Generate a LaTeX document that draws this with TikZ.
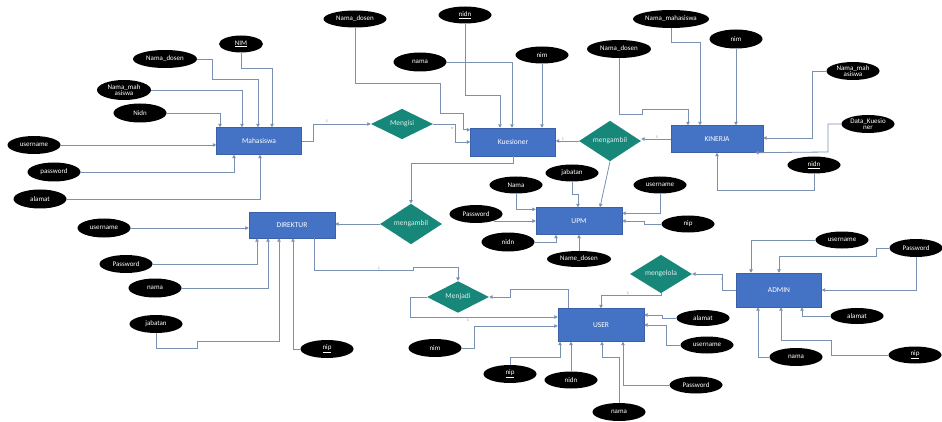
\documentclass[tikz,border=0pt]{standalone}
\usepackage{fontspec}
\setmainfont{Carlito}
\usetikzlibrary{shapes.geometric,arrows.meta}

\definecolor{boxblue}{HTML}{4472C4}
\definecolor{relteal}{HTML}{17877A}
\definecolor{wire}{HTML}{7A90B2}

\tikzset{
  entity/.style={draw=boxblue!85!black, fill=boxblue, text=white, minimum width=86pt, minimum height=27pt, inner sep=0pt, font=\fontsize{7.5}{8}\selectfont},
  attr/.style={ellipse, fill=black, text=white, minimum width=53pt, minimum height=18pt, inner sep=0pt, align=center, font=\fontsize{7}{6.5}\selectfont},
  rel/.style={diamond, fill=relteal, text=white!85!relteal, minimum width=62pt, minimum height=26pt, inner sep=0pt, font=\fontsize{7.5}{8}\selectfont},
  conn/.style={draw=wire, line width=0.8pt, -{Triangle[length=3.5pt,width=3.5pt]}},
  card/.style={font=\fontsize{4}{4}\selectfont, text=wire, inner sep=0.5pt}
}

\begin{document}
\begin{tikzpicture}[x=1pt, y=-1pt]
\useasboundingbox (0,0) rectangle (942,422);

% entitas
\node[entity, minimum width=85pt] (mhs) at (259,141) {Mahasiswa};
\node[entity, minimum width=85pt, minimum height=28pt] (kues) at (513,142) {Kuesioner};
\node[entity, minimum width=92pt] (kin) at (717,139) {KINERJA};
\node[entity, minimum height=26pt] (dir) at (292,225) {DIREKTUR};
\node[entity] (upm) at (579,221) {UPM};
\node[entity, minimum height=33pt] (usr) at (601,325) {USER};
\node[entity, minimum width=85pt, minimum height=34pt] (adm) at (779,290) {ADMIN};

% relasi
\node[rel] (mengisi) at (402,124) {Mengisi};
\node[rel] (ambilA) at (610,141) {mengambil};
\node[rel] (ambilB) at (411,224) {mengambil};
\node[rel] (menjadi) at (458,297) {Menjadi};
\node[rel] (kelola) at (661,274) {mengelola};

% Mahasiswa
\node[attr, minimum width=44pt, minimum height=17pt] (mNim) at (241,44) {\underline{NIM}};
\node[attr, minimum width=64pt] (mDosen) at (165,59) {Nama\_dosen};
\node[attr, minimum width=54pt, minimum height=20pt] (mNama) at (124,90) {Nama\_mah\\asiswa};
\node[attr, minimum height=19pt] (mNidn) at (140,113) {Nidn};
\node[attr] (mUser) at (34,145) {username};
\node[attr, minimum height=19pt] (mPass) at (54,172) {password};
\node[attr, minimum height=19pt] (mAlamat) at (40,199) {alamat};

\draw[conn] (mNim.south) |- (272,68) -- (272,0 |- mhs.north);
\draw[conn] (mDosen.east) -| (212,79) -| (258,0 |- mhs.north);
\draw[conn] (mNama.east) -| (242,0 |- mhs.north);
\draw[conn] (mNidn.east) -| (220,0 |- mhs.north);
\draw[conn] (mUser.east) -- (mUser.east -| mhs.west);
\draw[conn] (mPass.east) -| (234,0 |- mhs.south);
\draw[conn] (mAlamat.east) -| (260,0 |- mhs.south);
\draw[conn] (mhs.east) -- ++(12,0) |- (mengisi.west);
\node[card] (c1) at (327,121) {1};

% Kuesioner
\node[attr, minimum width=63pt, minimum height=17pt] (kDosen) at (355,19) {Nama\_dosen};
\node[attr, minimum height=17pt] (kNidn) at (465,15) {\underline{nidn}};
\node[attr, minimum height=19pt] (kNama) at (420,62) {nama};
\node[attr, minimum height=17pt] (kNim) at (542,55) {nim};

\draw[conn] (kDosen.south) |- (440,83) |- (463,113) |- ([yshift=-2pt]kues.north west);
\draw[conn] (kNidn.south) |- (500,95) -- (500,0 |- kues.north);
\draw[conn] (kNama.east) -| (512,0 |- kues.north);
\draw[conn] (kNim.south) -- (kNim.south |- kues.north);
\draw[conn] (mengisi.east) -- ++(22,0) |- (kues.west);
\node[card] (c2) at (452,129) {n};
\draw[conn] (kues.south) |- (411,163) -- (ambilB.north);
\draw[conn] (ambilA.west) -- (ambilA.west -| kues.east);
\node[card] (c3) at (563,139) {1};

% KINERJA
\node[attr, minimum width=64pt] (jDosen) at (619,49) {Nama\_dosen};
\node[attr, minimum width=76pt] (jNama) at (671,19) {Nama\_mahasiswa};
\node[attr, minimum height=19pt] (jNim) at (736,39) {nim};
\node[attr] (jNamaB) at (853,71) {Nama\_mah\\asiswa};
\node[attr] (jData) at (868,124) {Data\_Kuesio\\ner};
\node[attr, minimum height=17pt] (jNidn) at (814,165) {\underline{nidn}};

\draw[conn] (jDosen.south) |- (642,114) |- (688,109) -- (688,0 |- kin.north);
\draw[conn] (jNama.south) |- (700,42) -- (700,0 |- kin.north);
\draw[conn] (jNim.south) -- (jNim.south |- kin.north);
\draw[conn] (jNamaB.west) -| (812,138) -- (kin.east |- 0,138);
\draw[conn] (jData.west) -| (828,152) -- ([xshift=-8pt]kin.south east);
\draw[conn] (jNidn.south) |- (717,190) -- (kin.south);
\draw[conn] (kin.west) -- (kin.west -| ambilA.east);
\node[card] (c4) at (657,137) {1};
\draw[conn] (ambilA.south) -- (600,0 |- upm.north);

% UPM
\node[attr, minimum height=17pt] (uNama) at (516,185) {Nama};
\node[attr, minimum height=17pt] (uJab) at (572,173) {jabatan};
\node[attr, minimum height=17pt] (uUser) at (660,185) {username};
\node[attr] (uPass) at (476,214) {Password};
\node[attr, minimum height=17pt] (uNip) at (688,224) {nip};
\node[attr, minimum height=19pt] (uNidn) at (508,242) {nidn};
\node[attr, minimum width=64pt, minimum height=16pt] (uDosen) at (579,259) {Name\_dosen};

\draw[conn] (uNama.south) |- ([yshift=-2pt]upm.north west);
\draw[conn] (uJab.south) |- (578,194) -- (578,0 |- upm.north);
\draw[conn] (uUser.south) |- ([yshift=-6pt]upm.north east);
\draw[conn] (uPass.south east) |- (upm.west);
\draw[conn] (uNip.west) -- ++(-17,0) |- (upm.east);
\draw[conn] (uNidn.east) -| (556,0 |- upm.south);
\draw[conn] (uDosen.north) -- (upm.south);

% DIREKTUR
\node[attr, minimum height=19pt] (dUser) at (104,228) {username};
\node[attr] (dPass) at (126,264) {Password};
\node[attr, minimum height=19pt] (dNama) at (155,288) {nama};
\node[attr] (dJab) at (156,324) {jabatan};
\node[attr] (dNip) at (327,349) {\underline{nip}};

\draw[conn] (dUser.east) -- (dUser.east -| dir.west);
\draw[conn] (dPass.east) -| (257,0 |- dir.south);
\draw[conn] (dNama.east) -| (268,0 |- dir.south);
\draw[conn] (dJab.south) |- (197,348) |- (279,341) -- (279,0 |- dir.south);
\draw[conn] (dNip.west) -| (293,0 |- dir.south);
\draw[conn] (ambilB.west) -- (ambilB.west -| dir.east);
\draw[conn] ([xshift=22pt]dir.south) |- (413,270) |- (458,267) -- (menjadi.north);
\node[card] (c5) at (379,268) {1};

% USER
\node[attr] (sNim) at (435,348) {nim};
\node[attr] (sNip) at (510,374) {\underline{nip}};
\node[attr, minimum height=17pt] (sNidn) at (571,380) {nidn};
\node[attr] (sNama) at (619,412) {nama};
\node[attr, minimum height=16pt] (sAlamat) at (703,318) {alamat};
\node[attr, minimum height=17pt] (sUser) at (707,345) {username};
\node[attr, minimum height=17pt] (sPass) at (696,385) {Password};

\draw[conn] ([xshift=-33pt]usr.north) |- (510,289) |- (menjadi.east);
\draw[conn] (menjadi.west) -- ++(-16,0) |- ([yshift=8pt]usr.west);
\node[card] (c6) at (468,320) {1};
\draw[conn] (sNim.east) -- ++(13,0) |- ([yshift=-1pt]usr.west);
\draw[conn] (sNip.north) |- (560,357) -- (560,0 |- usr.south);
\draw[conn] (sNidn.north) -- (sNidn.north |- usr.south);
\draw[conn] (sNama.north) |- (602,357) -- (602,0 |- usr.south);
\draw[conn] (sPass.west) -| (623,0 |- usr.south);
\draw[conn] (sAlamat.west) -- ++(-14,0) |- ([yshift=10pt]usr.east);
\draw[conn] (sUser.west) -- ++(-14,0) |- (usr.east);
\draw[conn] (kelola.south) |- (601,295) -- (usr.north);
\node[card] (c7) at (628,293) {1};

% ADMIN
\node[attr, minimum height=17pt] (aUser) at (842,240) {username};
\node[attr] (aPass) at (916,248) {Password};
\node[attr, minimum height=16pt] (aAlamat) at (857,316) {alamat};
\node[attr] (aNama) at (796,357) {nama};
\node[attr, minimum height=17pt] (aNip) at (915,355) {\underline{nip}};

\draw[conn] (aUser.west) -| (751,0 |- adm.north);
\draw[conn] (aPass.west) -| (876,256) -| (adm.north);
\draw[conn] (aPass.south) |- (adm.east);
\draw[conn] (aAlamat.west) -| (802,0 |- adm.south);
\draw[conn] (aNama.west) -| (758,0 |- adm.south);
\draw[conn] (aNip.west) -| (831,340) -| (781,0 |- adm.south);
\draw[conn] (adm.west) -- ++(-14,0) |- (kelola.east);
\node[card] (c8) at (722,279) {1};
\end{tikzpicture}
\end{document}
